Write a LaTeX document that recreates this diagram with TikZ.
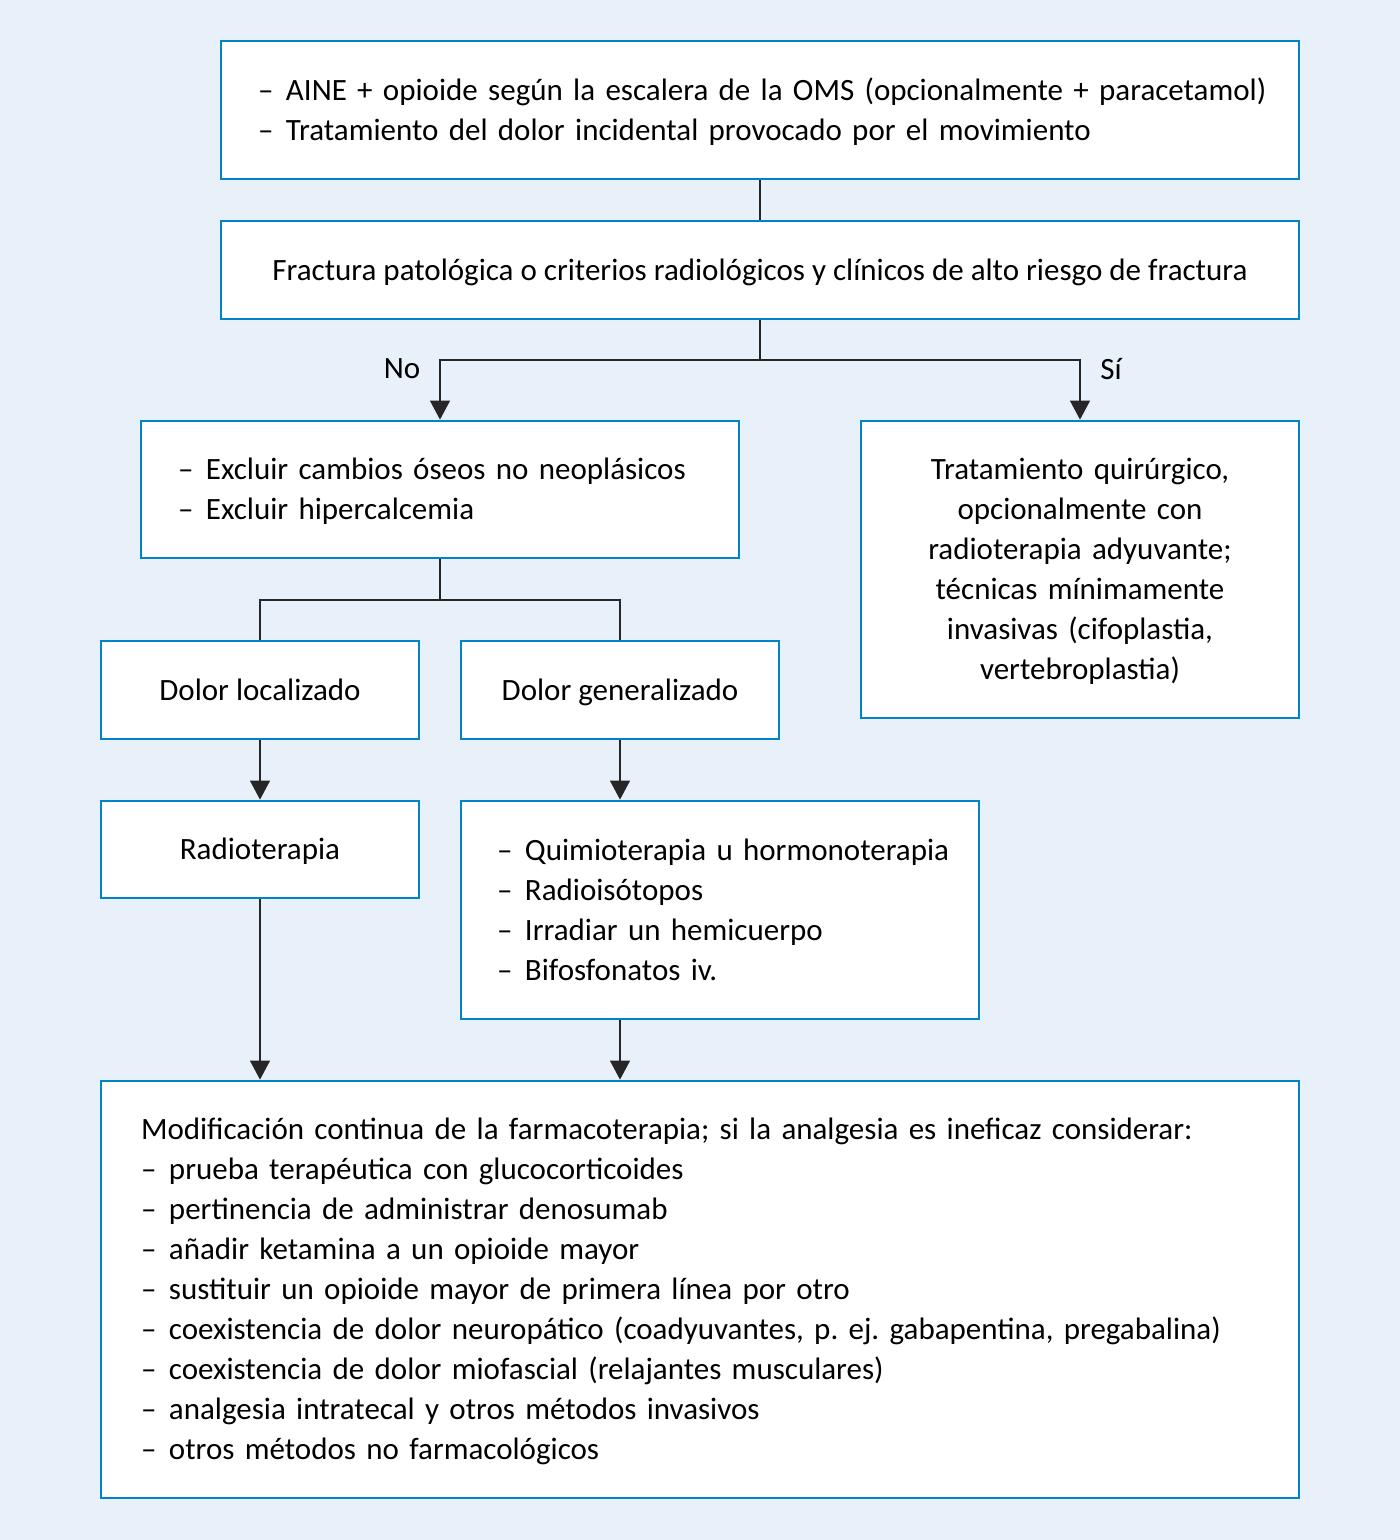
\documentclass[tikz,border=0pt]{standalone}
\usepackage{fontspec}
\setmainfont{Carlito}
\usetikzlibrary{arrows.meta}
\definecolor{bgcol}{RGB}{232,240,250}
\definecolor{bordercol}{RGB}{0,132,201}
\frenchspacing
\newcommand{\mystrut}{\rule[-10pt]{0pt}{40pt}}
\newcommand{\dli}[1]{\mbox{\mystrut\makebox[28pt][l]{–}#1}}
\newcommand{\tli}[1]{\mbox{\mystrut #1}}
\tikzset{
  box/.style={draw=bordercol, line width=2.8pt, fill=white, inner ysep=0pt, align=left,
    font=\fontsize{31pt}{40pt}\selectfont\frenchspacing},
  cbox/.style={box, align=center, inner xsep=0pt},
  conn/.style={draw=black!85, line width=1.3pt},
  arr/.style={conn, -{Triangle[width=20pt,length=19pt]}},
  lab/.style={font=\fontsize{31pt}{40pt}\selectfont, inner sep=0pt},
}
\begin{document}
\begin{tikzpicture}[x=1pt,y=-1pt]
\useasboundingbox (0,0) rectangle (1400,1540);
\fill[bgcol] (0,0) rectangle (1400,1540);
\node[box, inner xsep=37pt, text width=1004pt, minimum height=138pt] (b1) at (760,110)
  {\dli{AINE + opioide según la escalera de la OMS (opcionalmente + paracetamol)}\\
   \dli{Tratamiento del dolor incidental provocado por el movimiento}};
\node[cbox, minimum width=1078pt, minimum height=98pt] (b2) at (760,270)
  {\tli{Fractura patológica o criterios radiológicos y clínicos de alto riesgo de fractura}};
\node[box, inner xsep=37pt, text width=524pt, minimum height=137pt] (b3) at (440,489.5)
  {\dli{Excluir cambios óseos no neoplásicos}\\
   \dli{Excluir hipercalcemia}};
\node[cbox, text width=438pt, minimum height=297pt] (b4) at (1080,569.5)
  {\tli{Tratamiento quirúrgico,}\\ \tli{opcionalmente con}\\ \tli{radioterapia adyuvante;}\\ \tli{técnicas mínimamente}\\ \tli{invasivas (cifoplastia,}\\ \tli{vertebroplastia)}};
\node[cbox, minimum width=318pt, minimum height=98pt] (b5) at (260,690) {\tli{Dolor localizado}};
\node[cbox, minimum width=318pt, minimum height=98pt] (b6) at (620,690) {\tli{Dolor generalizado}};
\node[cbox, minimum width=318pt, minimum height=97pt] (b7) at (260,849.5) {\tli{Radioterapia}};
\node[box, inner xsep=36pt, text width=446pt, minimum height=218pt] (b8) at (720,910)
  {\dli{Quimioterapia u hormonoterapia}\\
   \dli{Radioisótopos}\\
   \dli{Irradiar un hemicuerpo}\\
   \dli{Bifosfonatos iv.}};
\node[box, inner xsep=40pt, text width=1118pt, minimum height=417pt] (b9) at (700,1289.5)
  {\tli{Modificación continua de la farmacoterapia; si la analgesia es ineficaz considerar:}\\
   \dli{prueba terapéutica con glucocorticoides}\\
   \dli{pertinencia de administrar denosumab}\\
   \dli{añadir ketamina a un opioide mayor}\\
   \dli{sustituir un opioide mayor de primera línea por otro}\\
   \dli{coexistencia de dolor neuropático (coadyuvantes, p. ej. gabapentina, pregabalina)}\\
   \dli{coexistencia de dolor miofascial (relajantes musculares)}\\
   \dli{analgesia intratecal y otros métodos invasivos}\\
   \dli{otros métodos no farmacológicos}};
\node[lab] (no) at (402,369) {No};
\node[lab] (si) at (1111,369) {Sí};
\coordinate (j1) at (760,360);
\coordinate (j2) at (440,600);
\draw[conn] (b1.south) -- (b2.north);
\draw[conn] (b2.south) -- (j1);
\draw[arr] (j1) -| (b3.north);
\draw[arr] (j1) -| (b4.north);
\draw[conn] (b3.south) -- (j2);
\draw[conn] (j2) -| (b5.north);
\draw[conn] (j2) -| (b6.north);
\draw[arr] (b5.south) -- (b7.north);
\draw[arr] (b6.south) -- (b6.south |- b8.north);
\draw[arr] (b7.south) -- (b7.south |- b9.north);
\draw[arr] (b6.south |- b8.south) -- (b6.south |- b9.north);
\end{tikzpicture}
\end{document}
